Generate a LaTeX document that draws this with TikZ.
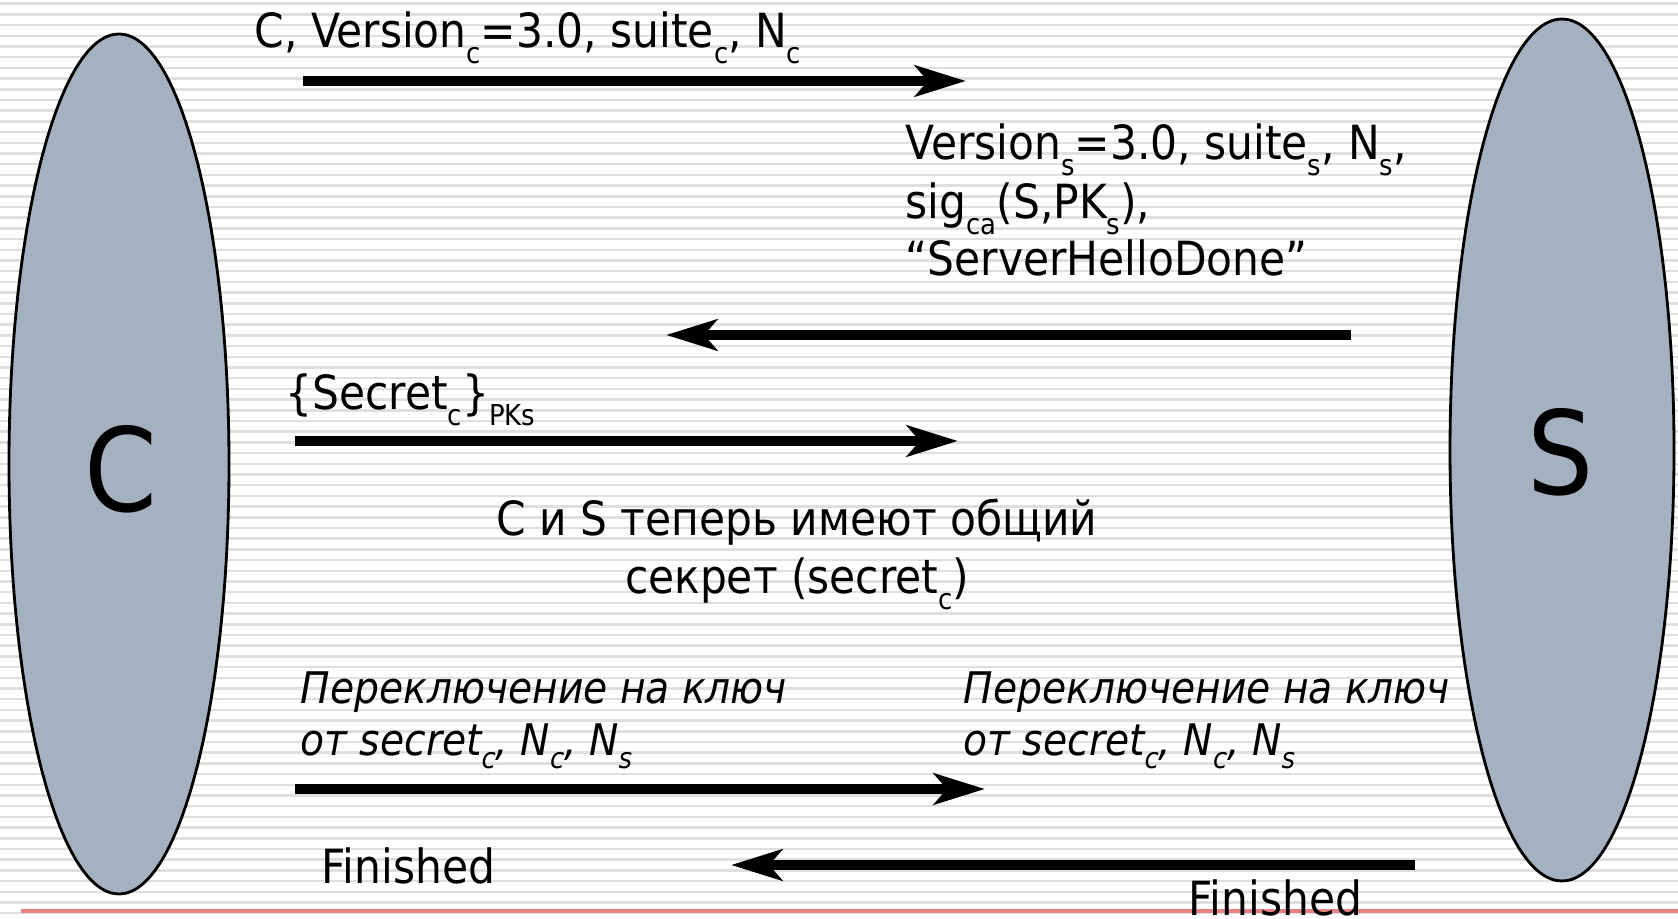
\documentclass[tikz,border=0pt]{standalone}
\usepackage{fontspec}
\setmainfont{DejaVu Sans Condensed}
\usepackage{xcolor}
\usepackage{tikz}
\usetikzlibrary{shapes.geometric, arrows.meta, positioning}
\definecolor{partyblue}{RGB}{163,177,192}
\definecolor{rulered}{RGB}{230,130,130}
\newcommand{\lsub}[1]{\raisebox{-0.32em}{\fontsize{8.2}{9}\selectfont #1}}
\tikzstyle{party} = [ellipse, draw, line width=0.8pt, fill=partyblue, inner sep=0pt]
\tikzstyle{partyname} = [inner sep=0pt, font=\fontsize{33}{40}\selectfont]
\tikzstyle{msg} = [-{Stealth[length=0.51cm, width=0.31cm, inset=0.13cm]}, line width=3.1pt]
\tikzstyle{txt} = [inner sep=0pt, anchor=base west]
\tikzstyle{note} = [txt, font=\fontsize{12.4}{15}\selectfont\itshape]
\tikzstyle{stripe} = [fill=gray!25]

\begin{document}
\begin{tikzpicture}[font=\fontsize{13.4}{16}\selectfont]
                \useasboundingbox (0,0) rectangle (16.78,9.18);
                % striped slide background
                \fill[white] (0,0) rectangle (16.78,9.18);
                \foreach \k in {0,...,85}
                    \fill[stripe] (0,{9.155-0.107*\k}) rectangle +(16.78,-0.025);
                \draw[rulered, line width=1.2pt] (0.21,0.07) -- (16.78,0.07);
                % client and server
                \node (client) at (1.19,4.54) [party, minimum width=2.2cm, minimum height=8.6cm] {};
                \node (server) at (15.62,4.68) [party, minimum width=2.24cm, minimum height=8.62cm] {};
                \node (cname) at (1.21,4.49) [partyname] {C};
                \node (sname) at (15.61,4.66) [partyname] {S};
                % message end points
                \coordinate (m1a) at (3.03,8.37);
                \coordinate (m1b) at (9.66,8.37);
                \coordinate (m2a) at (13.51,5.83);
                \coordinate (m2b) at (6.66,5.83);
                \coordinate (m3a) at (2.95,4.77);
                \coordinate (m3b) at (9.58,4.77);
                \coordinate (m4a) at (2.95,1.29);
                \coordinate (m4b) at (9.85,1.29);
                \coordinate (m5a) at (14.15,0.53);
                \coordinate (m5b) at (7.31,0.53);
                \draw[msg] (m1a) -- (m1b);
                \draw[msg] (m2a) -- (m2b);
                \draw[msg] (m3a) -- (m3b);
                \draw[msg] (m4a) -- (m4b);
                \draw[msg] (m5a) -- (m5b);
                % labels
                \node (hello) at (2.54,8.70) [txt] {C, Version\lsub{c}=3.0, suite\lsub{c}, N\lsub{c}};
                \node (shelloa) at (9.05,7.58) [txt] {Version\lsub{s}=3.0, suite\lsub{s}, N\lsub{s},};
                \node (shellob) at (9.05,6.99) [txt] {sig\lsub{ca}(S,PK\lsub{s}),};
                \node (shelloc) at (9.05,6.42) [txt] {“ServerHelloDone”};
                \node (keyx) at (2.85,5.08) [txt] {\{Secret\lsub{c}\}\lsub{PKs}};
                \node (sharedA) at (7.97,3.82) [txt, anchor=base] {C и S теперь имеют общий};
                \node (sharedB) at (7.97,3.24) [txt, anchor=base] {секрет (secret\lsub{c})};
                \node (switchCa) at (3.00,2.15) [note] {Переключение на ключ};
                \node (switchCb) at (3.00,1.63) [note] {от secret\lsub{c}, N\lsub{c}, N\lsub{s}};
                \node (switchSa) at (9.63,2.15) [note] {Переключение на ключ};
                \node (switchSb) at (9.63,1.63) [note] {от secret\lsub{c}, N\lsub{c}, N\lsub{s}};
                \node (finC) at (3.21,0.35) [txt] {Finished};
                \node (finS) at (11.88,0.03) [txt] {Finished};
            \end{tikzpicture}
\end{document}
